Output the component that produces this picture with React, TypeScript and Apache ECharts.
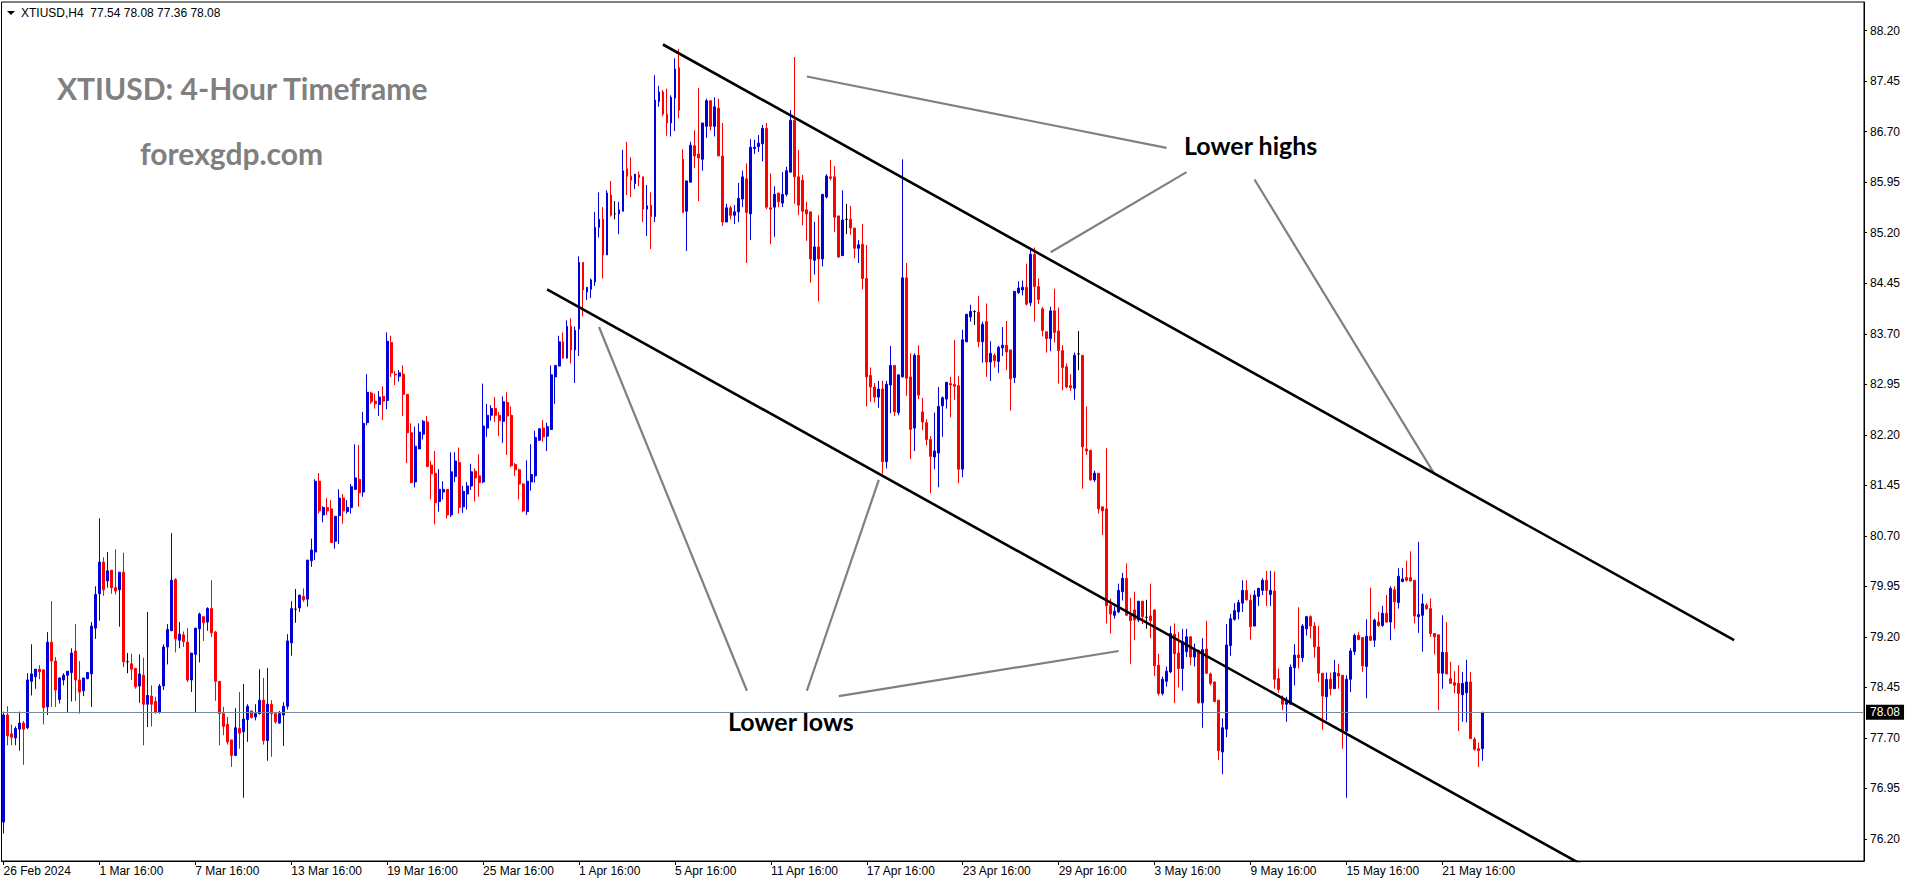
import React, { useEffect, useRef } from 'react';
import * as echarts from 'echarts';

// ---------- DATA ----------
const symbolName = 'XTIUSD,H4';
const titleText = 'XTIUSD: 4-Hour Timeframe';
const siteText = 'forexgdp.com';
const noteHighs = 'Lower highs';
const noteLows = 'Lower lows';

// x-axis tick labels, one every `labelStep` bars starting at bar 0
const xLabels = [
  '26 Feb 2024', '1 Mar 16:00', '7 Mar 16:00', '13 Mar 16:00', '19 Mar 16:00', '25 Mar 16:00',
  '1 Apr 16:00', '5 Apr 16:00', '11 Apr 16:00', '17 Apr 16:00', '23 Apr 16:00', '29 Apr 16:00',
  '3 May 16:00', '9 May 16:00', '15 May 16:00', '21 May 16:00',
];
const labelStep = 24;

// right price-scale tick labels
const yTicks = [76.2, 76.95, 77.7, 78.45, 79.2, 79.95, 80.7, 81.45, 82.2, 82.95, 83.7, 84.45, 85.2, 85.95, 86.7, 87.45, 88.2];
const yMin = 75.872;
const yMax = 88.626;

// candles: [open, high, low, close]
const week1 = [
  [76.45, 78.09, 76.28, 78.04], [78.04, 78.17, 77.59, 77.73], [77.76, 77.90, 77.59, 77.71], [77.70, 77.87, 77.59, 77.84],
  [77.83, 78.09, 77.51, 77.92], [77.92, 77.95, 77.30, 77.83], [77.85, 78.66, 77.83, 78.56], [78.54, 79.09, 78.33, 78.65],
  [78.61, 78.72, 78.43, 78.72], [78.72, 78.78, 78.57, 78.68], [78.71, 78.71, 77.90, 78.15], [78.16, 79.27, 78.04, 79.12],
  [79.12, 79.73, 78.16, 78.84], [78.84, 78.90, 78.16, 78.41], [78.27, 78.60, 78.21, 78.59], [78.56, 78.66, 78.48, 78.63],
  [78.63, 78.69, 78.07, 78.69], [78.67, 79.03, 78.24, 78.96], [78.99, 79.39, 78.25, 78.56], [78.56, 78.84, 78.06, 78.38],
  [78.40, 78.59, 78.32, 78.59], [78.58, 78.68, 78.57, 78.67], [78.65, 79.42, 78.16, 79.36], [79.33, 79.95, 79.17, 79.83],
];
const week2 = [
  [79.84, 80.96, 79.44, 80.31], [80.31, 80.38, 79.81, 79.90], [80.03, 80.46, 79.93, 80.18], [80.19, 80.19, 79.84, 79.93],
  [79.93, 80.50, 79.83, 79.88], [79.90, 80.16, 79.35, 80.16], [80.16, 80.45, 78.75, 78.83], [78.83, 78.96, 78.66, 78.83],
  [78.80, 78.95, 78.56, 78.72], [78.73, 78.74, 78.43, 78.46], [78.47, 78.94, 78.22, 78.65], [78.63, 78.89, 77.59, 78.20],
  [78.20, 79.57, 77.86, 78.33], [78.32, 78.48, 77.87, 78.20], [78.24, 78.31, 78.06, 78.08], [78.08, 78.50, 78.06, 78.47],
  [78.47, 79.09, 78.41, 79.05], [79.05, 79.39, 78.79, 79.31], [79.29, 80.74, 79.29, 80.04], [80.05, 80.07, 78.97, 79.17],
  [79.15, 79.42, 79.03, 79.24], [79.23, 79.28, 79.05, 79.13], [79.12, 79.33, 78.53, 78.56], [78.56, 78.96, 78.38, 78.96],
];
const week3 = [
  [78.94, 79.33, 78.08, 79.33], [79.32, 79.56, 78.82, 79.54], [79.50, 79.50, 79.14, 79.41], [79.42, 79.64, 79.29, 79.62],
  [79.62, 80.04, 79.20, 79.26], [79.27, 79.29, 78.25, 78.54], [78.54, 78.54, 77.59, 78.06], [78.06, 78.16, 77.74, 77.87],
  [77.90, 78.01, 77.60, 77.64], [77.67, 77.67, 77.27, 77.44], [77.44, 78.14, 77.43, 77.85], [77.84, 78.38, 77.54, 77.77],
  [77.79, 78.50, 76.81, 77.98], [77.97, 78.20, 77.64, 78.17], [78.10, 78.10, 77.99, 78.00], [78.01, 78.20, 77.96, 78.06],
  [78.06, 78.72, 78.05, 78.26], [78.26, 78.59, 77.60, 77.66], [77.66, 78.74, 77.36, 78.20], [78.20, 78.26, 77.42, 78.06],
  [78.06, 78.06, 77.91, 77.94], [77.92, 78.10, 77.91, 78.06], [78.04, 78.23, 77.58, 78.17], [78.17, 79.24, 78.12, 79.14],
];
const week4 = [
  [79.11, 79.73, 78.92, 79.62], [79.61, 79.91, 79.41, 79.61], [79.63, 79.82, 79.57, 79.82], [79.80, 79.92, 79.72, 79.75],
  [79.76, 80.34, 79.65, 80.34], [80.33, 80.66, 80.24, 80.49], [80.46, 81.54, 80.34, 81.51], [81.51, 81.63, 81.03, 81.07],
  [81.01, 81.14, 80.90, 81.12], [81.12, 81.26, 81.01, 81.07], [81.10, 81.23, 80.60, 80.60], [80.62, 80.99, 80.51, 80.99],
  [81.00, 81.39, 80.58, 81.26], [81.26, 81.32, 80.88, 81.07], [81.06, 81.23, 81.03, 81.12], [81.12, 81.47, 81.03, 81.43],
  [81.39, 82.06, 81.38, 81.56], [81.54, 82.05, 81.13, 81.34], [81.35, 82.54, 81.28, 82.37], [82.38, 83.10, 82.34, 82.83],
  [82.82, 82.84, 82.66, 82.69], [82.70, 82.81, 82.59, 82.66], [82.65, 82.85, 82.48, 82.76], [82.77, 82.92, 82.42, 82.70],
];
const week5 = [
  [82.71, 83.72, 82.58, 83.59], [83.57, 83.67, 83.06, 83.12], [83.10, 83.15, 82.94, 83.09], [83.07, 83.16, 82.99, 83.12],
  [83.10, 83.23, 82.48, 82.80], [82.80, 82.80, 81.78, 82.23], [82.23, 82.37, 81.48, 81.49], [81.50, 82.32, 81.42, 82.03],
  [81.99, 82.37, 81.99, 82.24], [82.21, 82.42, 82.13, 82.40], [82.39, 82.48, 81.72, 81.73], [81.75, 81.81, 81.24, 81.62],
  [81.63, 81.96, 80.87, 81.19], [81.21, 81.69, 81.06, 81.39], [81.35, 81.51, 81.24, 81.39], [81.39, 81.39, 80.96, 81.01],
  [81.01, 81.94, 80.98, 81.65], [81.58, 81.94, 81.50, 81.81], [81.79, 82.01, 81.03, 81.12], [81.13, 81.44, 81.04, 81.36],
  [81.32, 81.50, 81.09, 81.44], [81.44, 81.77, 81.38, 81.65], [81.66, 81.70, 81.21, 81.56], [81.59, 81.91, 81.28, 81.49],
];
const week6 = [
  [81.50, 82.96, 81.48, 82.33], [82.30, 82.66, 82.17, 82.49], [82.49, 82.64, 82.41, 82.59], [82.59, 82.76, 82.39, 82.49],
  [82.49, 82.54, 82.18, 82.41], [82.40, 82.77, 82.08, 82.69], [82.68, 82.83, 81.90, 82.48], [82.49, 82.62, 81.72, 81.74],
  [81.76, 81.78, 81.59, 81.68], [81.68, 81.70, 81.24, 81.47], [81.47, 81.48, 81.05, 81.07], [81.06, 81.82, 81.01, 81.51],
  [81.50, 82.06, 81.37, 81.61], [81.59, 82.26, 81.49, 82.16], [82.12, 82.29, 82.11, 82.29], [82.30, 82.42, 82.10, 82.17],
  [82.18, 82.38, 81.96, 82.32], [82.28, 83.23, 82.27, 83.09], [83.06, 83.23, 82.66, 83.23], [83.22, 83.67, 83.22, 83.58],
  [83.58, 83.72, 83.33, 83.34], [83.34, 83.90, 83.33, 83.81], [83.81, 83.93, 83.26, 83.46], [83.46, 83.81, 82.97, 83.75],
];
const week7 = [
  [83.77, 84.85, 83.37, 84.76], [84.76, 84.76, 83.96, 84.35], [84.32, 84.39, 84.20, 84.39], [84.36, 84.52, 84.23, 84.50],
  [84.47, 85.51, 84.41, 85.28], [85.28, 85.80, 85.13, 85.40], [85.40, 85.58, 84.52, 84.87], [84.87, 85.83, 84.87, 85.79],
  [85.76, 85.97, 85.44, 85.46], [85.48, 85.67, 85.40, 85.48], [85.48, 85.66, 85.18, 85.54], [85.52, 86.43, 85.52, 86.12],
  [86.15, 86.55, 85.76, 86.04], [86.04, 86.32, 85.73, 85.98], [85.93, 86.07, 85.85, 86.07], [86.06, 86.11, 85.89, 86.02],
  [86.03, 86.03, 85.36, 85.55], [85.55, 85.91, 85.15, 85.60], [85.61, 85.80, 84.96, 85.44], [85.44, 87.54, 85.36, 87.17],
  [87.15, 87.38, 87.07, 87.29], [87.29, 87.32, 86.93, 86.96], [86.96, 87.34, 86.64, 86.83], [86.83, 87.24, 86.63, 87.21],
];
const week8 = [
  [87.20, 87.79, 86.71, 87.63], [87.65, 87.93, 86.90, 87.02], [86.29, 86.44, 85.50, 85.50], [85.52, 85.97, 84.93, 85.97],
  [85.95, 86.55, 85.95, 86.50], [86.49, 86.72, 86.16, 86.34], [86.37, 87.35, 85.67, 86.31], [86.29, 86.83, 86.12, 86.83],
  [86.78, 87.19, 86.61, 87.16], [87.16, 87.16, 86.72, 86.78], [86.78, 87.21, 86.63, 87.07], [87.05, 87.19, 86.34, 86.34],
  [86.34, 86.83, 85.30, 85.36], [85.36, 85.63, 85.36, 85.57], [85.57, 85.60, 85.40, 85.46], [85.46, 85.61, 85.33, 85.51],
  [85.51, 85.94, 85.36, 85.71], [85.70, 86.12, 85.58, 86.03], [86.00, 86.23, 84.75, 85.50], [85.48, 86.59, 85.09, 86.47],
  [86.45, 86.58, 86.37, 86.47], [86.48, 86.65, 86.40, 86.53], [86.52, 86.80, 86.26, 86.75], [86.75, 86.83, 85.55, 85.58],
];
const week9 = [
  [85.57, 86.08, 85.03, 85.55], [85.58, 85.89, 85.14, 85.77], [85.79, 85.79, 85.58, 85.66], [85.64, 86.10, 85.58, 85.77],
  [85.77, 86.18, 85.74, 86.12], [86.10, 87.02, 86.10, 86.87], [86.87, 87.81, 85.63, 86.03], [86.03, 86.43, 85.46, 85.61],
  [85.98, 86.06, 85.31, 85.52], [85.54, 85.66, 85.08, 85.48], [85.51, 85.51, 84.46, 84.81], [84.79, 85.36, 84.58, 84.99],
  [84.99, 85.46, 84.18, 84.81], [84.81, 85.77, 84.70, 85.77], [85.73, 86.07, 85.71, 86.04], [86.03, 86.28, 85.98, 86.01],
  [86.03, 86.19, 85.21, 85.43], [85.45, 85.45, 84.83, 84.84], [84.86, 85.83, 84.86, 85.39], [85.40, 85.63, 85.18, 85.40],
  [85.40, 85.60, 85.17, 85.27], [85.27, 85.27, 84.82, 84.97], [84.97, 85.09, 84.75, 85.02], [85.03, 85.33, 84.36, 84.52],
];
const week10 = [
  [84.52, 85.02, 82.62, 83.06], [83.08, 83.20, 82.69, 82.91], [82.91, 82.97, 82.68, 82.76], [82.76, 83.00, 82.60, 82.88],
  [82.88, 83.00, 81.62, 81.80], [81.80, 83.00, 81.70, 82.95], [82.94, 83.52, 82.52, 83.23], [83.23, 83.23, 82.48, 82.54],
  [82.53, 83.09, 82.49, 83.09], [83.06, 86.29, 83.05, 84.53], [84.53, 84.75, 82.78, 83.04], [83.06, 83.41, 81.84, 82.28],
  [82.30, 83.41, 81.96, 83.38], [83.38, 83.53, 82.73, 82.79], [82.54, 82.75, 82.27, 82.39], [82.38, 82.43, 82.04, 82.13],
  [82.13, 82.18, 81.33, 81.88], [81.87, 82.53, 81.69, 81.96], [81.93, 82.91, 81.42, 82.62], [82.63, 82.77, 82.17, 82.75],
  [82.73, 82.98, 82.59, 82.98], [82.96, 83.06, 82.46, 82.94], [82.95, 83.61, 82.72, 82.92], [82.93, 83.07, 81.48, 81.69],
];
const week11 = [
  [81.69, 83.76, 81.57, 83.61], [83.58, 83.99, 83.58, 83.99], [83.95, 84.13, 83.88, 84.03], [84.03, 84.05, 83.83, 84.03],
  [84.02, 84.26, 83.50, 83.58], [83.58, 83.88, 83.27, 83.84], [83.88, 84.15, 83.06, 83.28], [83.28, 83.59, 83.00, 83.41],
  [83.38, 83.41, 83.20, 83.30], [83.29, 83.52, 83.12, 83.50], [83.49, 83.80, 83.37, 83.53], [83.53, 83.89, 83.16, 83.43],
  [83.46, 83.46, 82.56, 83.03], [83.05, 84.33, 82.97, 84.33], [84.31, 84.48, 84.29, 84.38], [84.35, 84.49, 84.27, 84.39],
  [84.39, 84.74, 84.12, 84.14], [84.16, 84.97, 84.11, 84.88], [84.88, 84.98, 83.88, 84.40], [84.40, 84.52, 84.14, 84.21],
  [84.07, 84.10, 83.66, 83.75], [83.73, 83.73, 83.42, 83.63], [83.63, 84.10, 83.44, 84.04], [84.04, 84.37, 83.57, 83.72],
];
const week12 = [
  [83.74, 84.09, 82.96, 83.45], [83.45, 83.53, 82.86, 83.20], [83.21, 83.26, 82.89, 82.91], [82.93, 83.10, 82.85, 82.90],
  [82.89, 83.42, 82.72, 83.38], [83.40, 83.74, 83.16, 83.40], [83.38, 83.38, 81.40, 82.02], [81.99, 82.62, 81.90, 81.96],
  [81.97, 81.97, 81.52, 81.53], [81.53, 81.67, 81.50, 81.63], [81.63, 81.63, 81.03, 81.10], [81.13, 81.13, 80.71, 81.07],
  [81.10, 82.00, 79.40, 79.66], [79.67, 79.77, 79.25, 79.54], [79.52, 79.65, 79.47, 79.58], [79.57, 79.99, 79.55, 79.89],
  [79.87, 80.15, 79.74, 80.07], [80.07, 80.29, 79.52, 79.52], [79.52, 79.78, 78.80, 79.44], [79.60, 79.87, 79.15, 79.45],
  [79.45, 79.73, 79.42, 79.73], [79.73, 79.73, 79.39, 79.50], [79.49, 79.75, 79.32, 79.49], [79.51, 79.99, 79.18, 79.44],
];
const week13 = [
  [79.60, 79.60, 78.62, 78.77], [78.78, 78.95, 78.33, 78.36], [78.36, 78.61, 78.33, 78.57], [78.54, 78.76, 78.46, 78.69],
  [78.68, 79.36, 78.66, 79.25], [79.24, 79.40, 78.22, 78.95], [78.96, 79.27, 78.45, 78.73], [78.73, 79.32, 78.40, 79.13],
  [78.98, 79.32, 78.90, 79.20], [79.20, 79.21, 78.78, 78.90], [78.90, 79.10, 78.76, 79.01], [79.00, 79.01, 78.21, 78.22],
  [78.22, 79.18, 77.85, 79.01], [79.02, 79.44, 78.65, 78.66], [78.65, 78.67, 78.48, 78.51], [78.53, 78.54, 78.23, 78.24],
  [78.26, 78.26, 77.37, 77.51], [77.49, 77.99, 77.16, 77.85], [77.83, 79.39, 77.71, 79.08], [79.07, 79.54, 78.92, 79.47],
  [79.46, 79.70, 79.44, 79.59], [79.57, 79.75, 79.46, 79.71], [79.70, 80.04, 79.57, 79.89], [79.89, 80.04, 79.74, 79.75],
];
const week14 = [
  [79.74, 79.83, 79.16, 79.35], [79.36, 79.89, 79.36, 79.82], [79.80, 79.93, 79.66, 79.92], [79.89, 80.07, 79.82, 80.04],
  [80.04, 80.18, 79.66, 79.89], [79.83, 80.18, 79.66, 79.89], [79.88, 80.17, 78.43, 78.57], [78.58, 78.73, 78.37, 78.42],
  [78.29, 78.33, 78.11, 78.20], [78.20, 78.31, 77.94, 78.26], [78.20, 78.79, 78.20, 78.75], [78.74, 79.09, 78.48, 78.93],
  [78.93, 79.64, 78.73, 78.89], [78.89, 79.39, 78.83, 79.36], [79.32, 79.51, 79.22, 79.50], [79.50, 79.52, 79.18, 79.36],
  [79.36, 79.42, 78.89, 79.05], [79.05, 79.36, 78.53, 78.66], [78.66, 78.66, 77.82, 78.32], [78.31, 78.67, 77.96, 78.57],
  [78.57, 78.67, 78.33, 78.43], [78.43, 78.86, 78.43, 78.67], [78.66, 78.80, 78.43, 78.62], [78.63, 78.63, 77.54, 77.80],
];
const week15 = [
  [77.80, 78.63, 76.81, 78.57], [78.57, 79.03, 78.38, 78.99], [78.98, 79.25, 78.93, 79.22], [79.22, 79.27, 79.15, 79.16],
  [79.19, 79.19, 78.68, 78.77], [78.76, 79.46, 78.29, 79.21], [79.21, 79.93, 79.14, 79.15], [79.15, 79.47, 79.05, 79.45],
  [79.42, 79.57, 79.35, 79.37], [79.37, 79.66, 79.35, 79.55], [79.55, 79.82, 79.41, 79.42], [79.42, 79.95, 79.15, 79.92],
  [79.90, 79.95, 79.32, 79.72], [79.71, 80.22, 79.62, 80.10], [80.02, 80.22, 80.02, 80.06], [80.08, 80.33, 80.02, 80.04],
  [80.08, 80.47, 80.02, 80.03], [80.04, 80.04, 79.40, 79.51], [79.50, 80.61, 79.26, 79.53], [79.52, 79.84, 78.98, 79.69],
  [79.67, 79.70, 79.60, 79.62], [79.62, 79.77, 79.20, 79.25], [79.25, 79.25, 78.94, 79.20], [79.23, 79.23, 78.11, 78.66],
];
const week16 = [
  [78.66, 79.52, 78.43, 78.97], [78.97, 79.42, 78.65, 78.65], [78.58, 78.83, 78.51, 78.51], [78.52, 78.69, 78.36, 78.48],
  [78.51, 78.78, 77.80, 78.36], [78.34, 78.68, 77.94, 78.51], [78.37, 78.86, 77.93, 78.53], [78.53, 78.68, 77.69, 77.69],
  [77.68, 77.71, 77.51, 77.53], [77.54, 77.63, 77.27, 77.51], [77.54, 78.08, 77.36, 78.08],
];

const candles = [
  ...week1, ...week2, ...week3, ...week4, ...week5, ...week6, ...week7, ...week8,
  ...week9, ...week10, ...week11, ...week12, ...week13, ...week14, ...week15, ...week16,
];

// number of bar slots the chart window holds (empty space to the right)
const totalSlots = 466;

// channel lines: [barIndex, price]
const upperChannel = [[165, 87.995], [433, 79.15]];
const lowerChannel = [[136, 84.36], [400, 75.65]];
// grey pointer lines
const pointerHighs = [
  [[201, 87.52], [291, 86.46]],
  [[262, 84.91], [296, 86.10]],
  [[313, 85.99], [358, 81.62]],
];
const pointerLows = [
  [[186, 78.40], [149, 83.80]],
  [[201, 78.40], [219, 81.53]],
  [[209, 78.32], [279, 78.99]],
];

// ---------- STYLE ----------
const BULL = '#0000D8';
const BEAR = '#FF0000';
const MT_FONT = 'Liberation Sans, Arial, sans-serif';
const TITLE_FONT = 'Lato, "Open Sans", sans-serif';

export default function App() {
  const ref = useRef<HTMLDivElement>(null);

  useEffect(() => {
    if (!ref.current) return;
    const chart = echarts.init(ref.current, undefined, { renderer: 'svg' });

    const categories = Array.from({ length: totalSlots }, (_, i) => String(i));
    const showLabel = (i: number) => i % labelStep === 0 && i / labelStep < xLabels.length && i < candles.length;
    const last = candles[candles.length - 1];
    const lastClose = last[3];
    const header = `${symbolName}  ${last[0].toFixed(2)} ${last[1].toFixed(2)} ${last[2].toFixed(2)} ${last[3].toFixed(2)}`;

    const lineSeries = (data: number[][], color: string, width: number) => ({
      type: 'line',
      data,
      symbol: 'none',
      silent: true,
      clip: true,
      z: 5,
      lineStyle: { color, width },
      emphasis: { disabled: true },
    });

    const option: any = {
      animation: false,
      backgroundColor: '#fff',
      grid: {
        left: 1.5,
        right: 50,
        top: 2,
        bottom: 23,
        containLabel: false,
        outerBoundsMode: 'none',
        show: true,
        borderColor: '#000',
        borderWidth: 1,
        backgroundColor: '#fff',
      },
      xAxis: {
        type: 'category',
        data: categories,
        boundaryGap: true,
        axisLine: { show: true, lineStyle: { color: '#000', width: 1 } },
        axisTick: {
          show: true,
          alignWithLabel: true,
          length: 4,
          interval: (i: number) => showLabel(i),
          lineStyle: { color: '#000' },
        },
        axisLabel: {
          interval: (i: number) => showLabel(i),
          formatter: (_v: string, i: number) => (showLabel(i) ? xLabels[i / labelStep] : ''),
          align: 'left',
          color: '#000',
          fontFamily: MT_FONT,
          fontSize: 12,
          margin: 4,
          hideOverlap: false,
        },
        splitLine: { show: false },
      },
      yAxis: {
        type: 'value',
        position: 'right',
        min: yMin,
        max: yMax,
        splitLine: { show: false },
        axisLine: { show: true, lineStyle: { color: '#000', width: 1 } },
        axisTick: { show: true, length: 3, customValues: yTicks, lineStyle: { color: '#000' } },
        axisLabel: {
          customValues: yTicks,
          formatter: (v: number) => v.toFixed(2),
          color: '#000',
          fontFamily: MT_FONT,
          fontSize: 12,
          margin: 6,
        },
      },
      series: [
        {
          type: 'candlestick',
          data: candles.map(([o, h, l, c]) => [o, c, l, h]),
          barWidth: 2.4,
          silent: true,
          itemStyle: {
            color: BULL,
            color0: BEAR,
            borderColor: BULL,
            borderColor0: BEAR,
            borderColorDoji: '#000',
            borderWidth: 1,
          },
          emphasis: { disabled: true },
          markLine: {
            silent: true,
            symbol: ['none', 'none'],
            animation: false,
            lineStyle: { color: '#778899', width: 1, type: 'solid' },
            label: {
              show: true,
              position: 'end',
              formatter: lastClose.toFixed(2),
              color: '#fff',
              backgroundColor: '#000',
              padding: [2, 4, 1, 4],
              fontFamily: MT_FONT,
              fontSize: 12,
              distance: 2,
            },
            data: [{ yAxis: lastClose }],
          },
        },
        ...pointerHighs.map((d) => lineSeries(d, '#808080', 2.2)),
        ...pointerLows.map((d) => lineSeries(d, '#808080', 2.2)),
        lineSeries(upperChannel, '#000', 2.6),
        lineSeries(lowerChannel, '#000', 2.6),
      ],
      graphic: [
        { type: 'polygon', shape: { points: [[7, 11], [15, 11], [11, 15]] }, style: { fill: '#000' }, silent: true },
        {
          type: 'text', x: 21, y: 13, silent: true,
          style: { text: header, fill: '#000', fontFamily: MT_FONT, fontSize: 12, verticalAlign: 'middle', align: 'left' },
        },
        {
          type: 'text', x: 57, y: 88, silent: true,
          style: { text: titleText, fill: '#808080', fontFamily: TITLE_FONT, fontWeight: 'bold', fontSize: 30, verticalAlign: 'middle', align: 'left' },
        },
        {
          type: 'text', x: 140, y: 153, silent: true,
          style: { text: siteText, fill: '#808080', fontFamily: TITLE_FONT, fontWeight: 'bold', fontSize: 30, verticalAlign: 'middle', align: 'left' },
        },
        {
          type: 'text', x: 1184, y: 145, silent: true,
          style: { text: noteHighs, fill: '#000', fontFamily: TITLE_FONT, fontWeight: 'bold', fontSize: 25, verticalAlign: 'middle', align: 'left' },
        },
        {
          type: 'text', x: 728, y: 721, silent: true,
          style: { text: noteLows, fill: '#000', fontFamily: TITLE_FONT, fontWeight: 'bold', fontSize: 25, verticalAlign: 'middle', align: 'left' },
        },
      ],
    };

    chart.setOption(option);
    return () => chart.dispose();
  }, []);

  return (
    <div
      ref={ref}
      style={{ position: 'fixed', left: 0, top: 0, width: 1914, height: 884, background: '#fff' }}
    />
  );
}
